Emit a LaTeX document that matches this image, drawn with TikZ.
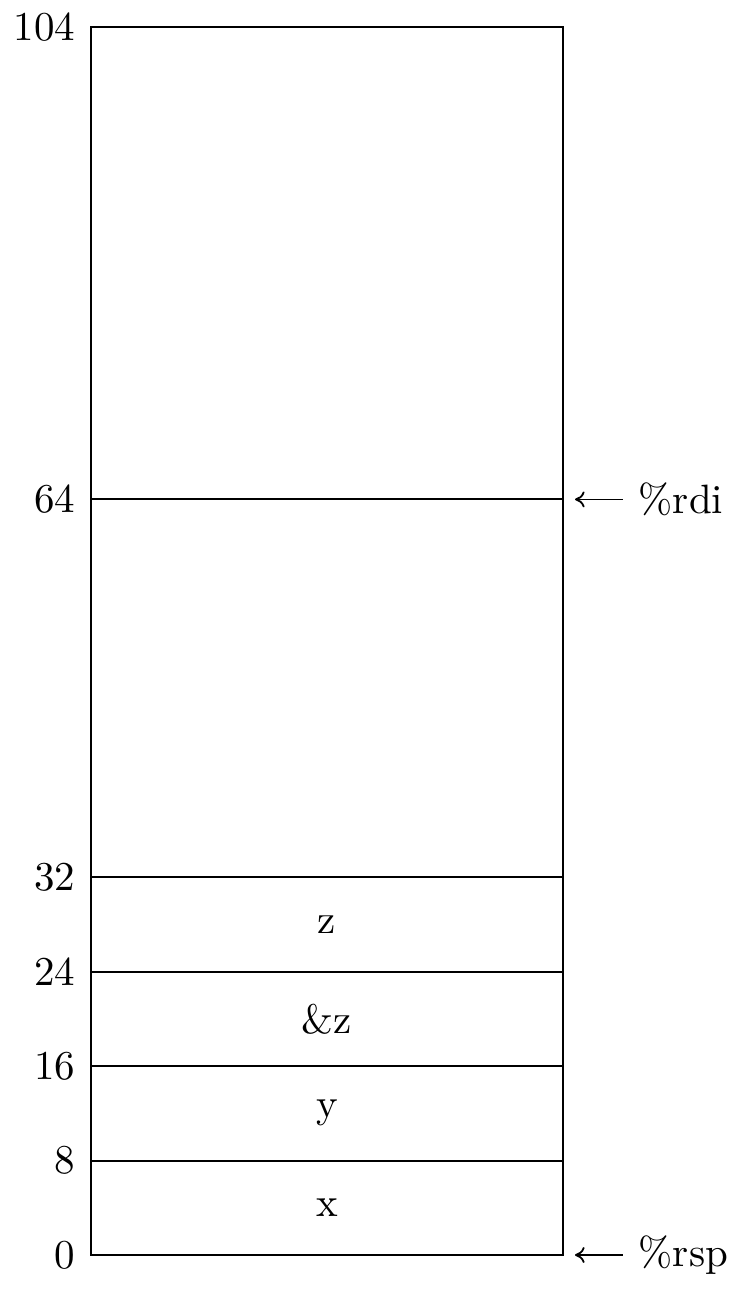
\documentclass[tikz,border=0pt]{standalone}
\usetikzlibrary{arrows.meta}
\begin{document}
\begin{tikzpicture}[x=0.25pt,y=-0.25pt,
  every node/.style={font=\fontsize{10.25}{12}\selectfont, inner sep=0pt},
  boxline/.style={line width=0.5pt},
  numlabel/.style={anchor=east},
  reglabel/.style={anchor=west},
  cell/.style={anchor=center},
  ptr/.style={line width=0.45pt, {Computer Modern Rightarrow[width=4pt,length=2.4pt]}-}]
\useasboundingbox (0,0) rectangle (741,1289);
% frame
\draw[boxline] (91,27) rectangle (563,1255);
% separators
\foreach \yy in {499.4,877.1,971.6,1066.1,1160.5}
  \draw[boxline] (91,\yy) -- (563,\yy);
% left values
\node[numlabel] (n104) at (76,27) {104};
\node[numlabel] (n64) at (76,499.4) {64};
\node[numlabel] (n32) at (76,877.1) {32};
\node[numlabel] (n24) at (76,971.6) {24};
\node[numlabel] (n16) at (76,1066.1) {16};
\node[numlabel] (n8) at (76,1160.5) {8};
\node[numlabel] (n0) at (76,1255) {0};
% cells
\node[cell] (cz) at (327,924.3) {z};
\node[cell] (caz) at (327,1018.8) {\&z};
\node[cell] (cy) at (327,1113.3) {y};
\node[cell] (cx) at (327,1207.7) {x};
% pointers
\coordinate (rditip) at (575,499.4);
\coordinate (rditail) at (623,499.4);
\coordinate (rsptip) at (575,1255);
\coordinate (rsptail) at (623,1255);
\node[reglabel] (rdi) at (638,499.4) {\%rdi};
\node[reglabel] (rsp) at (638,1255) {\%rsp};
\draw[ptr] (rditip) -- (rditail);
\draw[ptr] (rsptip) -- (rsptail);
\end{tikzpicture}
\end{document}
